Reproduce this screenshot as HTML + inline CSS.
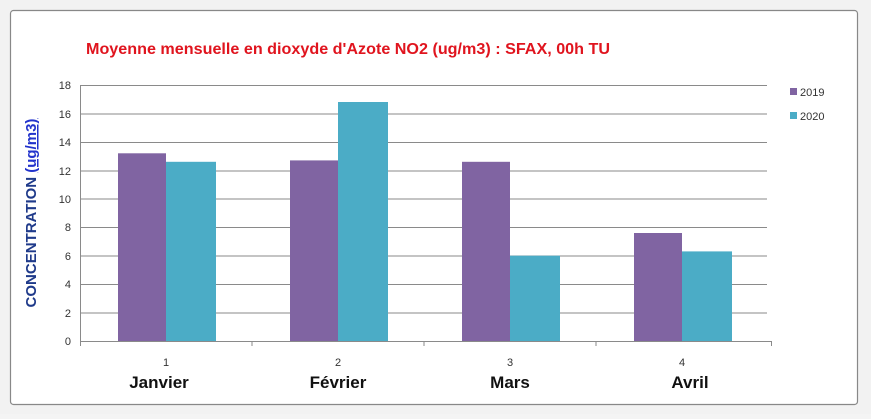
<!DOCTYPE html>
<html><head><meta charset="utf-8"><style>
body{margin:0;width:871px;height:414px;background:#f4f4f4;overflow:hidden;font-family:"Liberation Sans",sans-serif}
</style></head><body>
<svg width="871" height="414" xmlns="http://www.w3.org/2000/svg" font-family="Liberation Sans, sans-serif">
<rect x="0" y="0" width="871" height="414" fill="#f2f2f2"/>
<rect x="10.5" y="10.5" width="847" height="394" fill="#fff" stroke="#888" stroke-width="1.2" rx="3"/>
<text x="86" y="54" fill="#e0141e" font-size="16" font-weight="bold" textLength="524" lengthAdjust="spacingAndGlyphs">Moyenne mensuelle en dioxyde d'Azote NO2 (ug/m3) : SFAX, 00h TU</text>
<g stroke="#8a8a8a" stroke-width="1">
<line x1="80" y1="85.5" x2="767" y2="85.5"/>
<line x1="80" y1="114" x2="767" y2="114"/>
<line x1="80" y1="142.5" x2="767" y2="142.5"/>
<line x1="80" y1="171" x2="767" y2="171"/>
<line x1="80" y1="199" x2="767" y2="199"/>
<line x1="80" y1="227.5" x2="767" y2="227.5"/>
<line x1="80" y1="256" x2="767" y2="256"/>
<line x1="80" y1="284.5" x2="767" y2="284.5"/>
<line x1="80" y1="313" x2="767" y2="313"/>
<line x1="80" y1="341.5" x2="772" y2="341.5"/>
<line x1="80.5" y1="85" x2="80.5" y2="346"/>
<line x1="252" y1="341" x2="252" y2="346"/>
<line x1="424" y1="341" x2="424" y2="346"/>
<line x1="596" y1="341" x2="596" y2="346"/>
<line x1="771.5" y1="341" x2="771.5" y2="346"/>
</g>
<g fill="#333" font-size="11" text-anchor="end">
<text x="71" y="89">18</text><text x="71" y="118">16</text><text x="71" y="146">14</text><text x="71" y="175">12</text><text x="71" y="203">10</text><text x="71" y="231">8</text><text x="71" y="260">6</text><text x="71" y="288">4</text><text x="71" y="317">2</text><text x="71" y="345">0</text>
</g>
<g fill="#8064a2">
<rect x="118" y="153.3" width="48" height="187.7"/>
<rect x="290" y="160.4" width="48" height="180.6"/>
<rect x="462" y="161.8" width="48" height="179.2"/>
<rect x="634" y="233" width="48" height="108"/>
</g>
<g fill="#4bacc6">
<rect x="166" y="161.8" width="50" height="179.2"/>
<rect x="338" y="102" width="50" height="239"/>
<rect x="510" y="255.7" width="50" height="85.3"/>
<rect x="682" y="251.4" width="50" height="89.6"/>
</g>
<g fill="#333" font-size="11" text-anchor="middle">
<text x="166" y="366">1</text><text x="338" y="366">2</text><text x="510" y="366">3</text><text x="682" y="366">4</text>
</g>
<g fill="#111" font-size="17" font-weight="bold" text-anchor="middle">
<text x="159" y="388">Janvier</text><text x="338" y="388">Février</text><text x="510" y="388">Mars</text><text x="690" y="388">Avril</text>
</g>
<text transform="translate(36,213) rotate(-90)" text-anchor="middle" font-size="15" font-weight="bold" fill="#1f3a8a">CONCENTRATION <tspan fill="#2233cc" text-decoration="underline">(ug/m3)</tspan></text>
<rect x="790" y="88" width="7" height="7" fill="#8064a2"/>
<text x="800" y="96" font-size="11" fill="#333">2019</text>
<rect x="790" y="112" width="7" height="7" fill="#4bacc6"/>
<text x="800" y="120" font-size="11" fill="#333">2020</text>
</svg>
</body></html>
